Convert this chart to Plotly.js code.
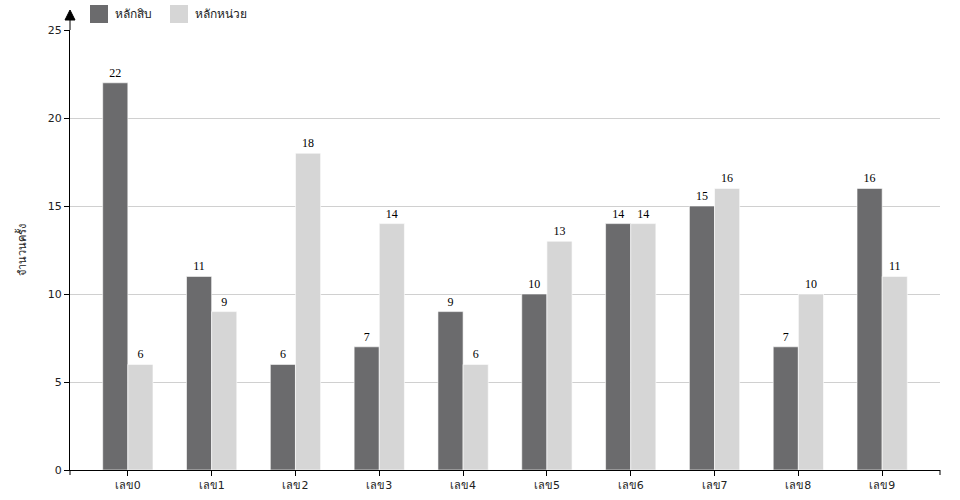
<!DOCTYPE html>
<html><head><meta charset="utf-8">
<script src="https://cdn.plot.ly/plotly-3.0.1.min.js"></script>
<style>html,body{margin:0;padding:0;background:#fff}#c{width:960px;height:500px}</style>
</head><body><div id="c"></div>
<script>
const categories = ["เลข0","เลข1","เลข2","เลข3","เลข4","เลข5","เลข6","เลข7","เลข8","เลข9"];
const tens = [22,11,6,7,9,10,14,15,7,16];
const units = [6,9,18,14,6,13,14,16,10,11];
const seriesNames = ["หลักสิบ","หลักหน่วย"];
const seriesColors = ['#6b6b6d', '#d6d6d6'];
const yTicks = [0,5,10,15,20,25];

const mk = (name, vals, color) => ({
  type:'bar', name:name, x:categories, y:vals,
  marker:{color:color, line:{color:'rgba(255,255,255,0.6)', width:1}},
  text:vals.map(String), textposition:'outside', cliponaxis:false,
  textfont:{family:'Liberation Serif, serif', size:12, color:'#000'},
  hoverinfo:'none'
});

const data = [mk(seriesNames[0], tens, seriesColors[0]), mk(seriesNames[1], units, seriesColors[1])];
const W = 870, H = 440, L = 70, T = 30;
const px = x => (x - L) / W;
const py = y => (T + H - y) / H;

const legendShapes = [], legendAnn = [];
const legX = [90, 170];
seriesNames.forEach((n, i) => {
  legendShapes.push({type:'rect', xref:'paper', yref:'paper', x0:px(legX[i]), x1:px(legX[i]+18), y0:py(5), y1:py(23),
    fillcolor:seriesColors[i], line:{width:0}});
  legendAnn.push({xref:'paper', yref:'paper', x:px(legX[i]+23), y:py(14), xanchor:'left', yanchor:'middle',
    text:n, showarrow:false, font:{size:12, color:'#222'}});
});

const layout = {
  width:960, height:500,
  margin:{l:70, r:20, t:30, b:30},
  paper_bgcolor:'#fff', plot_bgcolor:'#fff',
  font:{family:'DejaVu Sans, Noto Sans, sans-serif', size:11, color:'#222'},
  barmode:'group', bargap:0.4, bargroupgap:0,
  showlegend:false,
  xaxis:{type:'category', range:[-0.69, 9.69], showline:true, linecolor:'#000', linewidth:1,
         ticks:'outside', ticklen:5, tickcolor:'#000', showgrid:false, zeroline:false,
         tickfont:{size:11}},
  yaxis:{range:[0,25], tickvals:yTicks, showline:true, linecolor:'#000', linewidth:1,
         ticks:'outside', ticklen:5, tickcolor:'#000', showgrid:true, gridcolor:'#d0d0d0',
         zeroline:false, tickfont:{size:11},
         title:{text:'จำนวนครั้ง', font:{size:11}, standoff:18}},
  annotations:legendAnn,
  shapes:[
    {type:'line', xref:'paper', yref:'paper', x0:0, x1:0, y0:1, y1:10/H+1, line:{color:'#000', width:1}},
    {type:'path', xref:'paper', yref:'paper',
     path:`M ${-5/W} ${1+10/H} L ${5/W} ${1+10/H} L 0 ${1+20/H} Z`, fillcolor:'#000', line:{color:'#000', width:1}},
    {type:'line', xref:'paper', yref:'paper', x0:1, x1:1, y0:0, y1:-5/H, line:{color:'#000', width:1}},
    {type:'line', xref:'paper', yref:'paper', x0:0, x1:0, y0:0, y1:-5/H, line:{color:'#000', width:1}}
  ].concat(legendShapes)
};
Plotly.newPlot('c', data, layout, {displayModeBar:false, staticPlot:true});
</script></body></html>
